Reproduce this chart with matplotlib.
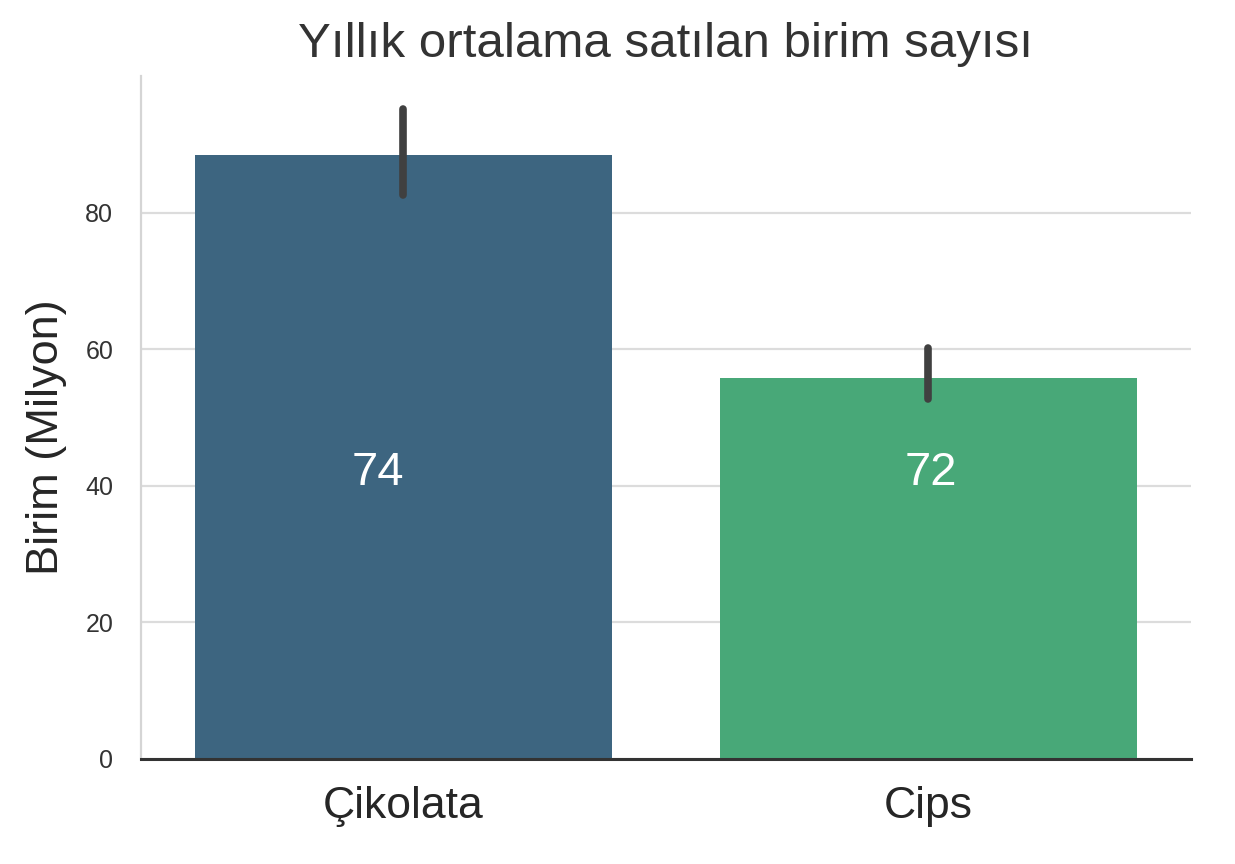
import numpy as np
import matplotlib
matplotlib.use("Agg")
import matplotlib.pyplot as plt

# veriler
urunler = ["Çikolata", "Cips"]
ortalama = [88.5, 55.8]
hata_alt = [82.5, 52.7]
hata_ust = [95.2, 60.1]
etiketler = ["74", "72"]
etiket_y = [41.8, 41.8]
renkler = ["#3d6580", "#48a878"]

plt.rcParams['font.family'] = ['Liberation Sans', 'DejaVu Sans']

fig = plt.figure(figsize=(12.35, 8.64), dpi=100)
ax = fig.add_axes([0.1142, 0.122, 0.850, 0.79])

x = np.arange(len(urunler))
ax.bar(x, ortalama, width=0.795, color=renkler, zorder=2)
for i in range(len(urunler)):
    ax.plot([x[i], x[i]], [hata_alt[i], hata_ust[i]], color="#404040",
            lw=5.5, solid_capstyle="round", zorder=3)
# etiketler biraz kaymis
kayma = [-0.049, 0.005]
for i in range(len(urunler)):
    ax.text(x[i] + kayma[i], etiket_y[i], etiketler[i], color="white",
            fontsize=34, ha="center", va="center", zorder=4)

ax.set_xlim(-0.5, 1.5)
ax.set_ylim(0, 100)
ax.set_yticks([0, 20, 40, 60, 80])
ax.set_xticks(x)
ax.set_xticklabels(urunler, fontsize=32, color="#262626")
ax.tick_params(axis="y", labelsize=18, colors="#333333", length=0, pad=20)
ax.tick_params(axis="x", length=0, pad=20)
ax.grid(axis="y", color="#dcdcdc", lw=1.6, zorder=0)
ax.set_axisbelow(True)
for s in ["top", "right"]:
    ax.spines[s].set_visible(False)
ax.spines["left"].set_color("#d5d5d5")
ax.spines["left"].set_linewidth(1.6)
ax.spines["bottom"].set_color("#333333")
ax.spines["bottom"].set_linewidth(2.2)

ax.set_ylabel("Birim (Milyon)", fontsize=32.5, color="#262626")
ax.yaxis.set_label_coords(-0.071, 0.471)
ax.set_title("Yıllık ortalama satılan birim sayısı", fontsize=35.5,
             color="#333333", pad=14)

fig.savefig("out.png", dpi=100, facecolor="white")
